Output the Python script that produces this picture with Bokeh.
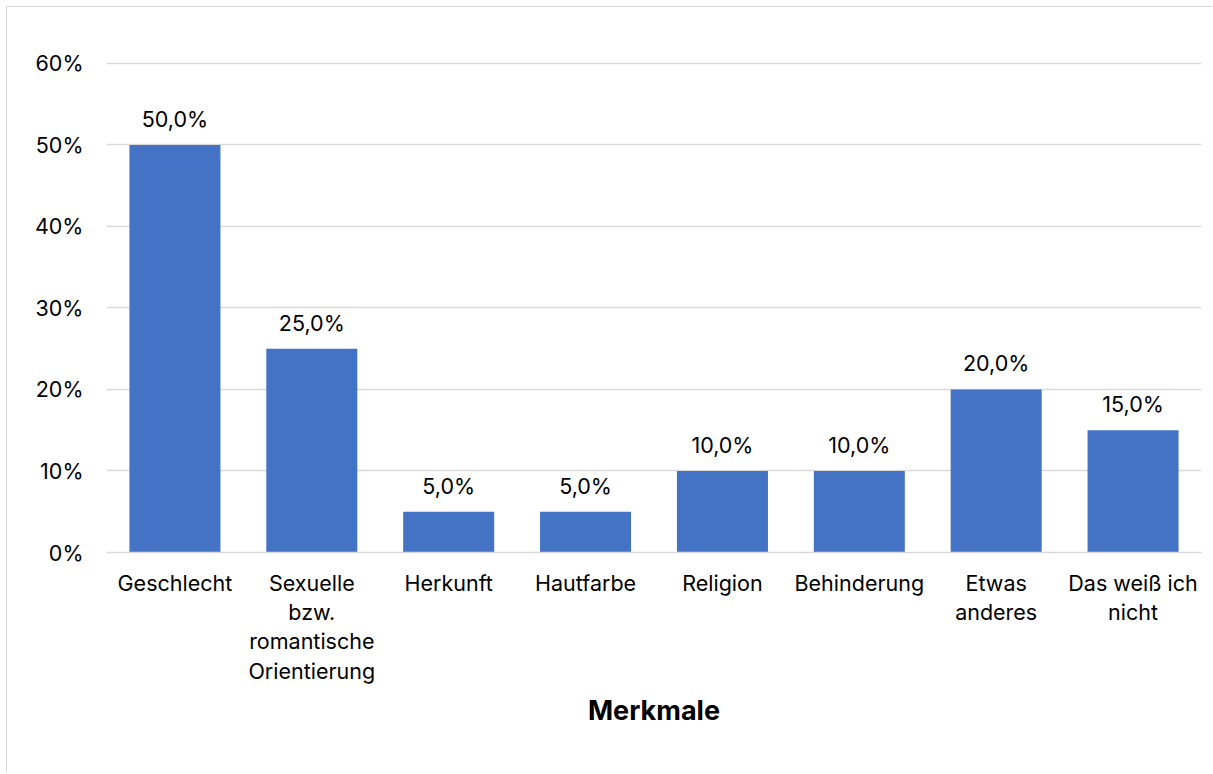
from bokeh.plotting import figure
from bokeh.models import ColumnDataSource, FactorRange, LabelSet, NumeralTickFormatter, Range1d
from bokeh.core.properties import value
from bokeh.embed import file_html
from bokeh.resources import INLINE

categories = ["Geschlecht", "Sexuelle\nbzw.\nromantische\nOrientierung", "Herkunft", "Hautfarbe",
              "Religion", "Behinderung", "Etwas\nanderes", "Das weiß ich\nnicht"]
values = [0.50, 0.25, 0.05, 0.05, 0.10, 0.10, 0.20, 0.15]
y_ticks = [0.0, 0.1, 0.2, 0.3, 0.4, 0.5, 0.6]
x_title = "Merkmale"

FONT = "Inter"
FS = "21.5px"

labels = [f"{v*100:.1f}%".replace(".", ",") for v in values]
src = ColumnDataSource(dict(cat=categories, val=values, lab=labels))

p = figure(x_range=FactorRange(*categories, range_padding=0), y_range=Range1d(0, 0.6012),
           width=1206, height=766, output_backend="svg", toolbar_location=None,
           min_border_left=99, min_border_right=12, min_border_top=55, min_border_bottom=221,
           styles={"margin-left": "6px", "margin-top": "6px",
                   "border-left": "1px solid #d9d9d9", "border-top": "1px solid #d9d9d9"})

p.vbar(x="cat", top="val", width=0.665, source=src, color="#4472C4", line_color=None)

p.add_layout(LabelSet(x="cat", y="val", text="lab", source=src, text_align="center",
                      text_baseline="alphabetic", y_offset=18, text_font=value(FONT),
                      text_font_size=value(FS), text_color="#000000"))

p.outline_line_color = None
p.xgrid.grid_line_color = None
p.ygrid.grid_line_color = "#d9d9d9"
p.ygrid.grid_line_width = 1.5
p.yaxis.ticker = y_ticks
p.yaxis.formatter = NumeralTickFormatter(format="0%")

for ax in (p.xaxis[0], p.yaxis[0]):
    ax.axis_line_color = None
    ax.major_tick_line_color = None
    ax.minor_tick_line_color = None
    ax.major_tick_out = 0
    ax.major_tick_in = 0
    ax.major_label_text_font = FONT
    ax.major_label_text_font_size = FS
    ax.major_label_text_color = "#000000"

p.xaxis.axis_line_color = "#d9d9d9"
p.xaxis.axis_line_width = 1.5
p.xaxis.major_label_text_line_height = 1.13
p.yaxis.major_label_standoff = 23
p.xaxis.major_label_standoff = 17
p.xaxis.axis_label = x_title
p.xaxis.axis_label_text_font = FONT
p.xaxis.axis_label_text_font_size = "27px"
p.xaxis.axis_label_text_font_style = "bold"
p.xaxis.axis_label_text_color = "#000000"
p.xaxis.axis_label_standoff = 7

open("out.html", "w").write(file_html(p, INLINE))
